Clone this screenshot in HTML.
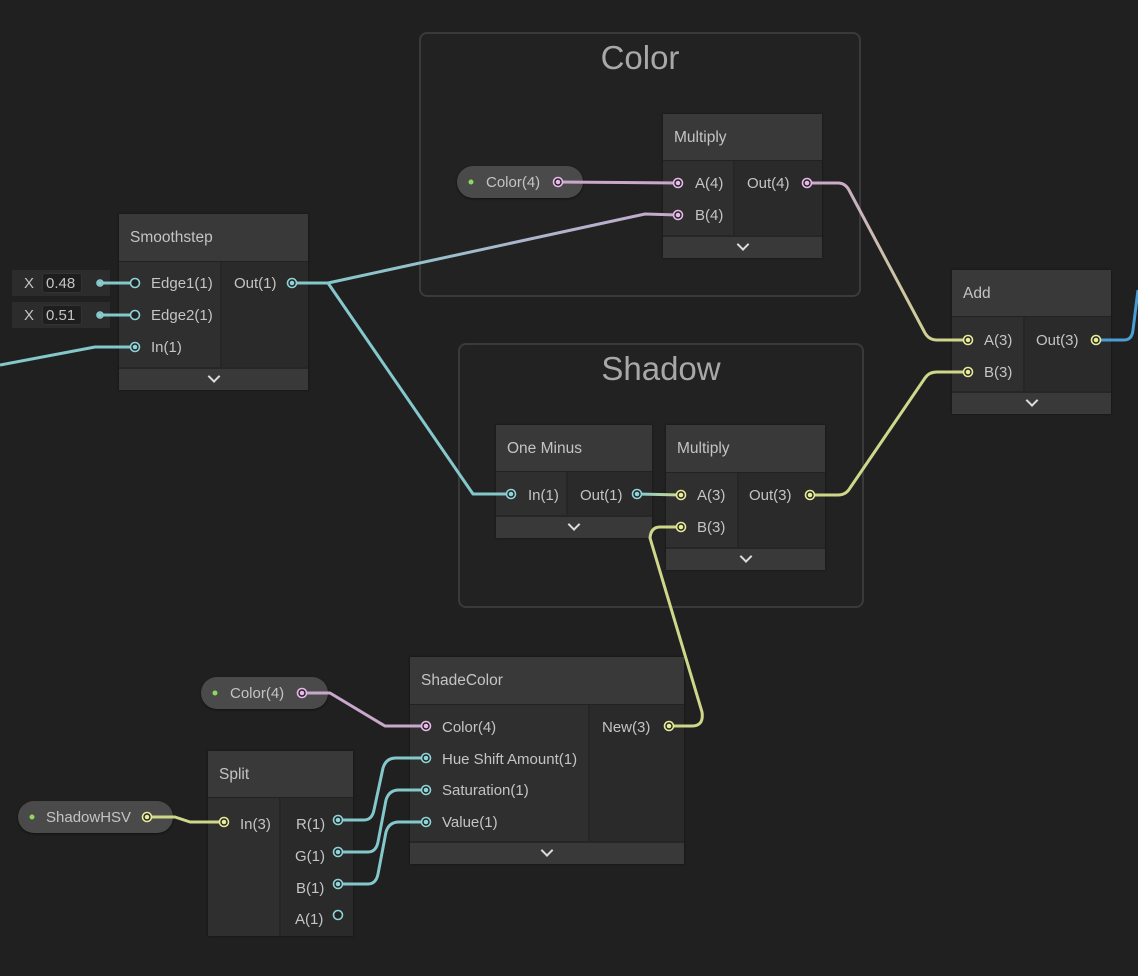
<!DOCTYPE html>
<html><head><meta charset="utf-8"><style>
body{margin:0;width:1138px;height:976px;background:#202020;position:relative;overflow:hidden;font-family:"Liberation Sans",sans-serif;color:#c4c4c4}
.a{position:absolute}
.grp{position:absolute;border:2px solid #3a3a3a;border-radius:8px;background:#222222}
.gt{position:absolute;left:0;right:0;text-align:center;font-size:33px;color:#a8a8a8}
.node{position:absolute;background:#2a2a2a;box-shadow:0 0 2px #111}
.hd{position:absolute;left:0;right:0;top:0;background:#393939;font-size:15.5px;padding-left:11px;box-sizing:border-box;border-bottom:1px solid #222}
.in{position:absolute;left:0;background:#2f2f2f;border-right:2px solid #262626}
.ft{position:absolute;left:0;right:0;bottom:0;height:21px;background:#393939;border-top:2px solid #262626}
.ft:after{content:"";position:absolute;left:50%;top:3px;width:7px;height:7px;border-right:2px solid #ddd;border-bottom:2px solid #ddd;transform:translateX(-50%) rotate(45deg)}
.t{position:absolute;font-size:15px;white-space:nowrap}
.pill{position:absolute;background:#4a4a4a;border-radius:16px;box-shadow:0 1px 2px #111;font-size:15px}
.xf{position:absolute;background:#2c2c2c;font-size:15px}
.xv{position:absolute;background:#1e1e1e;border-radius:3px;border:1px solid #333}
</style></head><body>

<div class="grp" style="left:419px;top:32px;width:438px;height:261px"><div class="gt" style="top:5px">Color</div></div>
<div class="grp" style="left:458px;top:343px;width:402px;height:261px"><div class="gt" style="top:5px">Shadow</div></div>

<!-- Smoothstep -->
<div class="node" style="left:119px;top:214px;width:189px;height:176px">
 <div class="hd" style="height:48px;line-height:48px">Smoothstep</div>
 <div class="in" style="top:48px;width:101px;height:107px"></div>
 <div class="ft"></div>
 <div class="t" style="left:32px;top:61px">Edge1(1)</div>
 <div class="t" style="left:32px;top:93px">Edge2(1)</div>
 <div class="t" style="left:32px;top:125px">In(1)</div>
 <div class="t" style="left:115px;top:61px">Out(1)</div>
</div>
<div class="xf" style="left:12px;top:270px;width:98px;height:26px"><span class="a" style="left:12px;top:5px">X</span><div class="xv" style="left:30px;top:3px;width:38px;height:18px"><span class="a" style="left:3px;top:1px">0.48</span></div></div>
<div class="xf" style="left:12px;top:302px;width:98px;height:26px"><span class="a" style="left:12px;top:5px">X</span><div class="xv" style="left:30px;top:3px;width:38px;height:18px"><span class="a" style="left:3px;top:1px">0.51</span></div></div>

<!-- Multiply color -->
<div class="node" style="left:663px;top:114px;width:159px;height:144px">
 <div class="hd" style="height:47px;line-height:47px">Multiply</div>
 <div class="in" style="top:47px;width:70px;height:76px"></div>
 <div class="ft"></div>
 <div class="t" style="left:32px;top:61px">A(4)</div>
 <div class="t" style="left:32px;top:93px">B(4)</div>
 <div class="t" style="left:84px;top:61px">Out(4)</div>
</div>
<div class="pill" style="left:457px;top:166px;width:126px;height:32px"><span class="a" style="left:29px;top:8px">Color(4)</span></div>

<!-- Add -->
<div class="node" style="left:952px;top:270px;width:159px;height:144px">
 <div class="hd" style="height:47px;line-height:47px">Add</div>
 <div class="in" style="top:47px;width:71px;height:76px"></div>
 <div class="ft"></div>
 <div class="t" style="left:32px;top:62px">A(3)</div>
 <div class="t" style="left:32px;top:94px">B(3)</div>
 <div class="t" style="left:84px;top:62px">Out(3)</div>
</div>

<!-- One Minus -->
<div class="node" style="left:496px;top:425px;width:156px;height:113px">
 <div class="hd" style="height:47px;line-height:47px">One Minus</div>
 <div class="in" style="top:47px;width:70px;height:45px"></div>
 <div class="ft"></div>
 <div class="t" style="left:32px;top:62px">In(1)</div>
 <div class="t" style="left:84px;top:62px">Out(1)</div>
</div>

<!-- Multiply shadow -->
<div class="node" style="left:666px;top:425px;width:159px;height:145px">
 <div class="hd" style="height:48px;line-height:48px">Multiply</div>
 <div class="in" style="top:48px;width:71px;height:76px"></div>
 <div class="ft"></div>
 <div class="t" style="left:31px;top:62px">A(3)</div>
 <div class="t" style="left:31px;top:94px">B(3)</div>
 <div class="t" style="left:83px;top:62px">Out(3)</div>
</div>

<!-- ShadeColor -->
<div class="node" style="left:410px;top:657px;width:274px;height:207px">
 <div class="hd" style="height:48px;line-height:48px">ShadeColor</div>
 <div class="in" style="top:48px;width:178px;height:138px"></div>
 <div class="ft"></div>
 <div class="t" style="left:32px;top:62px">Color(4)</div>
 <div class="t" style="left:32px;top:94px">Hue Shift Amount(1)</div>
 <div class="t" style="left:32px;top:125px">Saturation(1)</div>
 <div class="t" style="left:32px;top:157px">Value(1)</div>
 <div class="t" style="left:192px;top:62px">New(3)</div>
</div>
<div class="pill" style="left:201px;top:677px;width:127px;height:32px"><span class="a" style="left:29px;top:8px">Color(4)</span></div>

<!-- Split -->
<div class="node" style="left:208px;top:751px;width:145px;height:185px">
 <div class="hd" style="height:47px;line-height:47px">Split</div>
 <div class="in" style="top:47px;width:71px;height:138px"></div>
 <div class="t" style="left:32px;top:65px">In(3)</div>
 <div class="t" style="left:88px;top:65px">R(1)</div>
 <div class="t" style="left:87px;top:97px">G(1)</div>
 <div class="t" style="left:88px;top:129px">B(1)</div>
 <div class="t" style="left:87px;top:160px">A(1)</div>
</div>
<div class="pill" style="left:18px;top:801px;width:155px;height:32px"><span class="a" style="left:28px;top:8px">ShadowHSV</span></div>

<svg class="a" style="left:0;top:0" width="1138" height="976">
<defs>
<linearGradient id="g1" gradientUnits="userSpaceOnUse" x1="328" y1="283" x2="678" y2="215"><stop offset="0" stop-color="#84c8cc"/><stop offset="1" stop-color="#c8a8cc"/></linearGradient>
<linearGradient id="g2" gradientUnits="userSpaceOnUse" x1="807" y1="183" x2="968" y2="340"><stop offset="0" stop-color="#caa8cc"/><stop offset="1" stop-color="#cfd88a"/></linearGradient>
<linearGradient id="g3" gradientUnits="userSpaceOnUse" x1="637" y1="494" x2="681" y2="495"><stop offset="0" stop-color="#84c8cc"/><stop offset="1" stop-color="#cfd88a"/></linearGradient>
</defs>
<g fill="none" stroke-width="3" stroke-linejoin="round">
<path d="M292 283 L328 283 L645 214 L678 215" stroke="url(#g1)"/>
<path d="M292 283 L328 283 L473 494 L511 494" stroke="#84c8cc"/>
<path d="M0 365 L95 347 L135 347" stroke="#84c8cc"/>
<path d="M100 283 L135 283 M100 315 L135 315" stroke="#84c8cc"/>
<path d="M558 182 L678 183" stroke="#caa8cc"/>
<path d="M807 183 L838 183 Q846 183 850 192 L925 333 Q929 340 937 340 L968 340" stroke="url(#g2)"/>
<path d="M810 495 L838 495 Q846 495 850 488 L925 378 Q929 372 937 372 L968 372" stroke="#cfd88a"/>
<path d="M1096 340 L1124 340 Q1132 340 1133 330 L1138 290" stroke="#4a9ed6"/>
<path d="M637 494 L681 495" stroke="url(#g3)"/>
<path d="M681 527 L660 527 Q651 527 650 538 L702 712 Q704 726 692 726 L669 726" stroke="#cfd88a"/>
<path d="M302 693 L330 693 L385 726 L426 726" stroke="#caa8cc"/>
<path d="M147 817 L175 817 L190 822 L224 822" stroke="#cfd88a"/>
<path d="M338 820 L364 820 Q372 820 374 810 L383 768 Q386 758 396 758 L426 758" stroke="#84c8cc"/>
<path d="M338 852 L368 852 Q376 852 378 842 L386 800 Q389 790 399 790 L426 790" stroke="#84c8cc"/>
<path d="M338 884 L368 884 Q376 884 378 874 L386 832 Q389 822 399 822 L426 822" stroke="#84c8cc"/>
</g>
<g stroke-width="1.6" fill="#222">
<g stroke="#8fd4d8"><circle cx="135" cy="283" r="4.5"/><circle cx="135" cy="315" r="4.5"/><circle cx="135" cy="347" r="4.5"/><circle cx="292" cy="283" r="4.5"/><circle cx="511" cy="494" r="4.5"/><circle cx="637" cy="494" r="4.5"/><circle cx="426" cy="758" r="4.5"/><circle cx="426" cy="790" r="4.5"/><circle cx="426" cy="822" r="4.5"/><circle cx="338" cy="820" r="4.5"/><circle cx="338" cy="852" r="4.5"/><circle cx="338" cy="884" r="4.5"/><circle cx="338" cy="915" r="4.5"/><circle cx="100" cy="283" r="3"/><circle cx="100" cy="315" r="3"/></g>
<g stroke="#e8b8e8"><circle cx="558" cy="182" r="4.5"/><circle cx="678" cy="183" r="4.5"/><circle cx="678" cy="215" r="4.5"/><circle cx="807" cy="183" r="4.5"/><circle cx="302" cy="693" r="4.5"/><circle cx="426" cy="726" r="4.5"/></g>
<g stroke="#e8ec98"><circle cx="968" cy="340" r="4.5"/><circle cx="968" cy="372" r="4.5"/><circle cx="1096" cy="340" r="4.5"/><circle cx="681" cy="495" r="4.5"/><circle cx="681" cy="527" r="4.5"/><circle cx="810" cy="495" r="4.5"/><circle cx="669" cy="726" r="4.5"/><circle cx="224" cy="822" r="4.5"/><circle cx="147" cy="817" r="4.5"/></g>
</g>
<g>
<g fill="#8fd4d8"><circle cx="135" cy="347" r="2.3"/><circle cx="292" cy="283" r="2.3"/><circle cx="511" cy="494" r="2.3"/><circle cx="637" cy="494" r="2.3"/><circle cx="426" cy="758" r="2.3"/><circle cx="426" cy="790" r="2.3"/><circle cx="426" cy="822" r="2.3"/><circle cx="338" cy="820" r="2.3"/><circle cx="338" cy="852" r="2.3"/><circle cx="338" cy="884" r="2.3"/><circle cx="100" cy="283" r="2"/><circle cx="100" cy="315" r="2"/></g>
<g fill="#e8b8e8"><circle cx="558" cy="182" r="2.3"/><circle cx="678" cy="183" r="2.3"/><circle cx="678" cy="215" r="2.3"/><circle cx="807" cy="183" r="2.3"/><circle cx="302" cy="693" r="2.3"/><circle cx="426" cy="726" r="2.3"/></g>
<g fill="#e8ec98"><circle cx="968" cy="340" r="2.3"/><circle cx="968" cy="372" r="2.3"/><circle cx="1096" cy="340" r="2.3"/><circle cx="681" cy="495" r="2.3"/><circle cx="681" cy="527" r="2.3"/><circle cx="810" cy="495" r="2.3"/><circle cx="669" cy="726" r="2.3"/><circle cx="224" cy="822" r="2.3"/><circle cx="147" cy="817" r="2.3"/></g>
<g fill="#8fd860"><circle cx="471" cy="182" r="2.5"/><circle cx="215" cy="693" r="2.5"/><circle cx="32" cy="817" r="2.5"/></g>
</g>
</svg>
</body></html>
